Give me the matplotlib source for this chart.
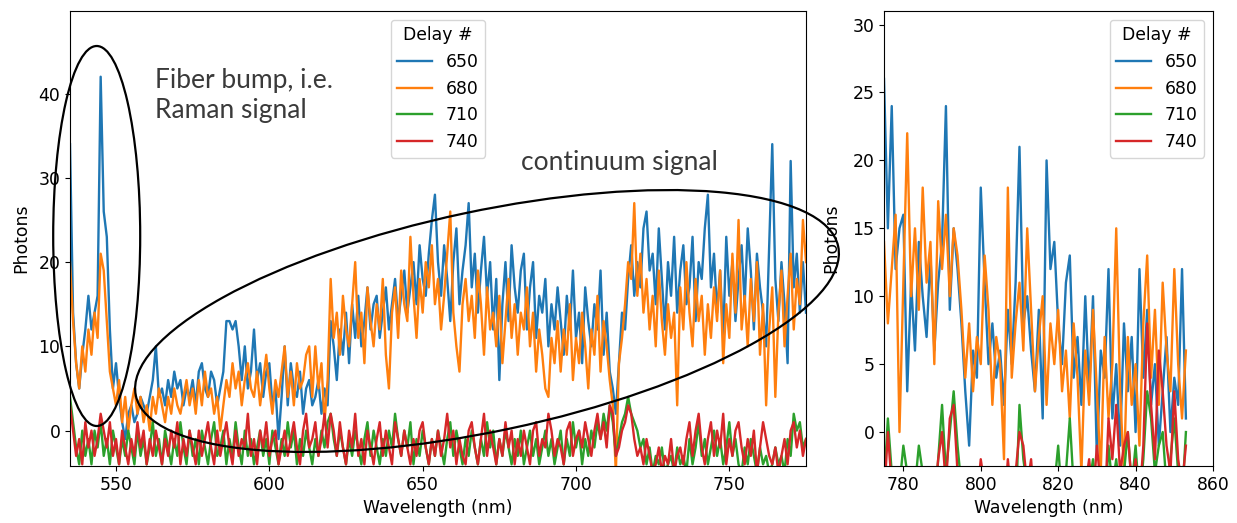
import numpy as np
import matplotlib
matplotlib.use("Agg")
import matplotlib.pyplot as plt
from matplotlib.patches import Ellipse

# ---------------- data ----------------
wl_left = np.arange(535, 776)          # nm, 1 nm steps
wl_right = np.arange(775, 854)

delays = ["650", "680", "710", "740"]

blue_left = [
    34, 14, 8, 5, 9, 12, 16, 12, 14, 16,
    42, 26, 23, 12, 5, 8, 4, 1, -1, 2,
    3, 1, 2, 4, 3, 2, 4, 6, 10, 4,
    5, 3, 6, 4, 7, 5, 6, 3, 5, 4,
    6, 3, 7, 8, 5, 4, 7, 6, 3, 5,
    7, 13, 13, 12, 13, 10, 6, 10, 5, 7,
    12, 6, 8, 4, 7, 8, 3, 5, -1, 4,
    10, 3, 8, 5, 4, 7, 2, 5, 6, 3,
    4, 6, 2, 5, 3, 13, 10, 6, 12, 9,
    14, 8, 15, 11, 16, 10, 13, 17, 12, 15,
    16, 11, 14, 17, 12, 15, 18, 13, 16, 19,
    14, 17, 20, 15, 22, 18, 16, 21, 25, 28,
    20, 16, 22, 18, 13, 20, 24, 15, 19, 22,
    27, 17, 21, 14, 19, 23, 16, 20, 12, 18,
    6, 15, 20, 13, 22, 17, 14, 19, 21, 12,
    17, 20, 11, 16, 14, 18, 10, 15, 12, 17,
    13, 9, 16, 12, 19, 11, 14, 8, 17, 13,
    10, 15, 12, 19, 9, 14, 7, 5, 2, 8,
    14, 12, 18, 22, 16, 20, 17, 24, 26, 19,
    21, 15, 24, 18, 12, 20, 16, 23, 14, 19,
    22, 15, 17, 23, 13, 20, 18, 24, 28, 17,
    21, 14, 19, 11, 23, 16, 20, 13, 18, 22,
    15, 24, 19, 12, 21, 17, 14, 10, 22, 34,
    18, 13, 20, 15, 8, 32, 17, 21, 14, 20,
    14,
]

orange_left = [
    20, 13, 8, 5, 10, 7, 12, 9, 14, 11,
    21, 19, 13, 7, 5, 3, 6, 1, 4, 0,
    3, 5, 2, 4, 1, 3, 0, 4, 2, 5,
    3, 1, 4, 2, 5, 3, 2, 4, 6, 3,
    5, 2, 6, 3, 7, 4, 5, 2, 4, 0,
    3, 6, 4, 8, 5, 7, 3, 6, 8, 5,
    4, 7, 3, 6, 9, 5, 2, 6, 4, 7,
    10, 4, 7, 3, 8, 5, 6, 9, 10, 4,
    10, 5, 8, 1, 6, 18, 11, 14, 9, 16,
    12, 10, 15, 20, 11, 14, 8, 17, 13, 10,
    15, 12, 18, 9, 5, 14, 17, 11, 19, 15,
    13, 23, 16, 11, 18, 14, 20, 17, 22, 15,
    18, 12, 16, 21, 26, 14, 10, 7, 15, 18,
    13, 16, 11, 19, 15, 9, 17, 12, 14, 10,
    16, 8, 13, 18, 11, 15, 9, 14, 12, 17,
    10, 14, 7, 12, 9, 5, 4, 11, 8, 13,
    7, 12, 9, 15, 6, 11, 8, 14, 10, 5,
    12, 9, 16, 7, 13, 10, 6, 3, -5, 8,
    11, 15, 20, 18, 27, 16, 21, 14, 18, 12,
    16, 10, 19, 13, 9, 15, 11, 14, 3, 17,
    12, 20, 14, 10, 18, 13, 16, 9, 15, 11,
    17, 13, 19, 8, 15, 11, 21, 14, 25, 12,
    16, 10, 18, 13, 20, 9, 15, 3, 12, 17,
    4, 14, 19, 10, 16, 21, 12, 18, 15, 25,
    20,
]

green_left = [
    4, 1, -2, -4, 0, -3, -1, -4, 0, -2,
    1, -3, -1, -4, 0, -2, -4, -1, -3, 0,
    -2, -4, 0, -3, -1, -4, -2, 1, -3, -1,
    -4, 0, -2, -4, -1, -3, 1, -2, -4, 0,
    -3, -1, -4, 0, -2, -4, -1, 1, -3, -2,
    0, -4, -1, -3, 1, -2, -4, 0, -3, -1,
    -4, -2, 0, -3, -1, -4, 0, -2, -4, -1,
    -3, 1, -2, 0, -4, -1, -3, 0, -2, -4,
    -1, -3, 0, -2, 1, 2, -1, -3, 0, -2,
    -4, -1, -3, 0, -2, -4, -1, 1, -3, 0,
    -2, -4, -1, -3, 0, -2, 2, -1, -3, 0,
    -2, 1, -4, -1, -3, 0, -2, -4, -1, -3,
    0, -2, -4, -1, 1, -3, 0, -2, -4, -1,
    -3, 0, -2, -4, -1, -3, 1, -2, 0, -4,
    -1, -3, 0, -2, -4, -1, -3, 0, -4, -2,
    0, -3, -1, -4, -2, 0, -3, -1, -4, -2,
    0, -4, -1, -3, 1, -2, 0, -4, -1, -3,
    0, -2, 1, -1, 2, 0, 3, 1, -3, -1,
    1, 2, 4, 2, 1, 0, -2, -1, -4, -2,
    -5, -3, -4, -2, -5, -4, -3, -5, -2, -4,
    -3, -5, -1, -4, -2, 1, -3, -1, -4, -2,
    0, -3, -1, -4, -2, 1, -3, -1, -4, -5,
    -2, -4, -1, -3, -5, -2, -4, -3, -5, -4,
    -2, -4, -3, -5, -1, -3, 2, 0, 1, -2,
    -1,
]

red_left = [
    3, 0, -3, -1, -4, 1, -2, 0, -3, -1,
    2, 0, -2, 1, -3, -1, -4, 0, -2, -4,
    -1, -3, 1, -2, 0, -4, -1, -3, 0, -2,
    -4, -1, -3, 0, -2, 1, -4, -1, -3, 0,
    -2, -4, 0, -3, -1, 1, -2, -4, 0, -3,
    -1, 1, -2, -4, 0, -3, -1, -2, 2, -3,
    -1, -4, 0, -2, 1, -3, -1, 0, -4, -2,
    0, -3, -1, 1, -2, -4, 0, 2, -2, -1,
    1, -3, -1, 2, -2, 2, 0, -3, 1, -2,
    -4, 0, -2, 2, -3, -1, -4, 0, -2, -4,
    -1, 1, -3, 0, -2, -4, 1, -1, -3, 0,
    -2, -4, -1, -3, 0, 1, -2, -4, -1, -3,
    0, -3, -1, 2, -2, 0, -4, -1, -3, -4,
    0, 1, -2, -4, -1, 2, -3, 0, -2, -4,
    -1, -3, 1, -2, 0, -4, -1, -3, 0, -2,
    -4, 0, 1, -3, -1, -2, 2, 0, -3, -1,
    -2, -4, 0, 1, -3, -1, 0, -2, 1, -1,
    -3, 0, 2, -1, 1, -2, 3, 2, -3, -2,
    0, 1, 3, 2, -1, -3, -2, -4, -1, -3,
    -5, -4, -2, -5, -3, -4, -1, -5, -3, -2,
    -4, -1, 1, -3, 0, 2, -2, -4, -1, 1,
    -3, 0, -2, 2, -4, -1, -3, 0, 1, -2,
    -4, -1, -3, 0, -5, -2, 1, -1, -3, -4,
    -2, -5, -3, -1, -4, 0, 1, -2, 0, -3,
    -1,
]

blue_right = [
    26, 15, 24, 12, 15, 16, 3, 11, 6, 14,
    10, 7, 13, 6, 11, 14, 24, 9, 15, 12,
    8, 3, -1, 6, 4, 18, 11, 5, 8, 4,
    6, 2, 9, 5, 11, 21, 8, 10, 6, 3,
    9, 1, 20, 12, 14, 8, 5, 11, 13, 4,
    7, 2, 10, 3, 10, -2, 6, 4, 12, 1,
    5, -1, 8, 3, 7, 0, 12, 4, 9, 2,
    5, -1, 3, 7, 0, 4, 2, 12, 1,
]

orange_right = [
    14, 8, 12, 16, 0, 11, 22, 10, 15, 9,
    18, 11, 14, 5, 17, 12, 16, 10, 15, 13,
    9, 4, 8, 3, 7, 5, 13, 9, 2, 7,
    5, -2, 18, 4, 8, 11, 6, 15, 9, 3,
    7, 10, 2, 8, 5, 9, 3, 6, 1, 8,
    4, -3, 6, 2, 9, 3, -3, 7, 1, 5,
    15, 3, -3, 7, 2, 5, -1, 8, 13, 4,
    9, 2, 11, 6, 3, 12, 5, 1, 6,
]

green_right = [
    -4, 1, -3, -5, -4, -1, -3, -6, -4, -1,
    -3, -5, -4, -6, -2, 2, -3, 0, 3, -1,
    -4, -6, -5, -3, -7, -5, -4, -6, -5, -3,
    -6, -4, -5, -3, -6, 2, -2, -4, -5, -6,
    -4, -5, -3, -6, -4, -1, -5, -3, 1, -4,
    -5, -3, -6, -4, -2, -5, -3, -6, -1, -4,
    -2, -5, -3, 0, -4, -1, -5, -2, 3, 1,
    -3, -1, 0, -4, -2, 1, -3, -5, 0,
]

red_right = [
    -5, 0, -4, -6, -3, -5, -7, -4, -6, -5,
    -4, -6, -3, -5, -2, 0, -4, 1, 2, -3,
    -5, -4, -6, -3, -5, -2, -4, -6, -5, -7,
    -4, -6, -2, -5, -3, 0, -1, -4, -2, -6,
    -5, -3, -6, -4, -7, -5, -3, -6, -4, -5,
    -3, -6, -4, -2, -5, -1, -4, -6, 1, -2,
    2, -3, -1, 0, -4, -2, -5, -1, 8, 2,
    -2, 6, 3, -1, -3, 3, -2, -4, -1,
]

# ---------------- figure ----------------
W, H = 1237, 523
FS = 12.4
plt.rcParams["font.family"] = ["DejaVu Sans"]
plt.rcParams["font.size"] = FS

fig = plt.figure(figsize=(W / 100, H / 100), dpi=100)

def axrect(x0, y0, x1, y1):
    return [x0 / W, 1 - y1 / H, (x1 - x0) / W, (y1 - y0) / H]

ax1 = fig.add_axes(axrect(70, 11, 806, 466))
ax2 = fig.add_axes(axrect(884, 11, 1213, 466))

colors = ["#1f77b4", "#ff7f0e", "#2ca02c", "#d62728"]
lw = 1.7
left_series = [blue_left, orange_left, green_left, red_left]
right_series = [blue_right, orange_right, green_right, red_right]
for ys, c, lab in zip(left_series, colors, delays):
    ax1.plot(wl_left, ys, color=c, lw=lw, label=lab)
for ys, c, lab in zip(right_series, colors, delays):
    ax2.plot(wl_right, ys, color=c, lw=lw, label=lab)

ax1.set_xlim(535, 775)
ax1.set_ylim(-4.2, 49.8)
ax1.set_xticks([550, 600, 650, 700, 750])
ax1.set_yticks([0, 10, 20, 30, 40])
ax2.set_xlim(775, 860)
ax2.set_ylim(-2.5, 31)
ax2.set_xticks([780, 800, 820, 840, 860])
ax2.set_yticks([0, 5, 10, 15, 20, 25, 30])

for ax in (ax1, ax2):
    ax.set_xlabel("Wavelength (nm)", fontsize=FS)
    ax.tick_params(labelsize=FS)
ax1.set_ylabel("Photons", fontsize=FS, labelpad=6.2)
ax2.set_ylabel("Photons", fontsize=FS, labelpad=8.3)

leg_kw = dict(title="Delay #", fontsize=FS, title_fontsize=FS, labelspacing=0.5)
ax1.legend(loc="upper center", **leg_kw)
ax2.legend(loc="upper right", **leg_kw)

# ---------------- annotations ----------------
tr = fig.dpi_scale_trans
e1 = Ellipse((96.7 / 100, (H - 236) / 100), 0.87, 3.80, angle=0,
             fill=False, edgecolor="black", lw=1.6, transform=tr, zorder=10)
e2 = Ellipse((487 / 100, (H - 321) / 100), 7.18, 2.20, angle=12,
             fill=False, edgecolor="black", lw=1.6, transform=tr, zorder=10)
fig.add_artist(e1)
fig.add_artist(e2)

afont = dict(family=["Lato", "DejaVu Sans"], fontsize=19, fontweight="normal",
             color="#3a3a3a")
fig.text(155 / W, 1 - 88 / H, "Fiber bump, i.e.", va="baseline", ha="left", **afont)
fig.text(155 / W, 1 - 118 / H, "Raman signal", va="baseline", ha="left", **afont)
fig.text(521 / W, 1 - 170 / H, "continuum signal", va="baseline", ha="left", **afont)

fig.savefig("out.png", dpi=100)
